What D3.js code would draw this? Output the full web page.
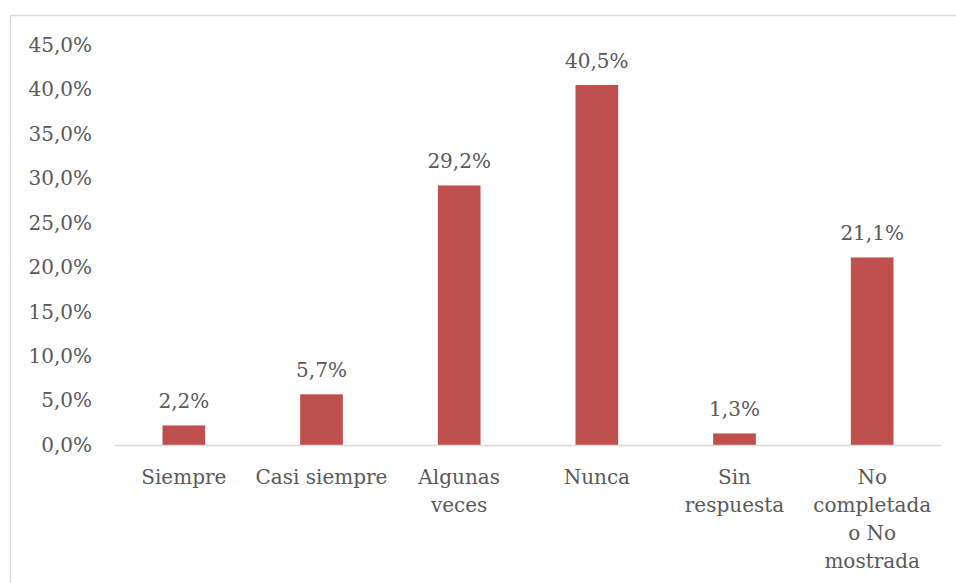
<!DOCTYPE html>
<html><head><meta charset="utf-8">
<script src="https://cdn.jsdelivr.net/npm/d3@7"></script>
<style>body{margin:0;background:#fff}svg{display:block}text{font-family:"DejaVu Serif",serif;fill:#595959}</style>
</head><body>
<script>
const categories = ["Siempre","Casi siempre","Algunas veces","Nunca","Sin respuesta","No completada o No mostrada"];
const categoryLines = [["Siempre"],["Casi siempre"],["Algunas","veces"],["Nunca"],["Sin","respuesta"],["No","completada","o No","mostrada"]];
const values = [2.2,5.7,29.2,40.5,1.3,21.1];
const yTicks = [0,5,10,15,20,25,30,35,40,45];

const W=956,H=583;
const svg=d3.select("body").append("svg").attr("width",W).attr("height",H);
svg.append("rect").attr("x",10.5).attr("y",15.5).attr("width",W+20).attr("height",H+20)
  .attr("fill","none").attr("stroke","#d9d9d9").attr("stroke-width",1.5);

const x=d3.scaleBand().domain(categories).range([115,941]).paddingInner(0.69).paddingOuter(0.345);
const y=d3.scaleLinear().domain([0,45]).range([445,45]);
const fmt=v=>d3.format(".1f")(v).replace(".",",")+"%";
const fs=20;

const ya=svg.append("g").attr("transform","translate(92,0)")
  .call(d3.axisLeft(y).tickValues(yTicks).tickFormat(fmt).tickSize(0).tickPadding(0));
ya.select(".domain").remove();
ya.selectAll("text").style("font-size",fs+"px").style("font-family","DejaVu Serif").attr("fill","#595959");

svg.selectAll("rect.bar").data(values).join("rect").attr("class","bar")
  .attr("x",(d,i)=>x(categories[i])).attr("width",x.bandwidth())
  .attr("y",d=>y(d)).attr("height",d=>y(0)-y(d)).attr("fill","#c0504d");

svg.append("line").attr("x1",115).attr("x2",941).attr("y1",y(0)+0.5).attr("y2",y(0)+0.5)
  .attr("stroke","#d9d9d9").attr("stroke-width",1.5);

svg.selectAll("text.lbl").data(values).join("text").attr("class","lbl")
  .attr("x",(d,i)=>x(categories[i])+x.bandwidth()/2).attr("y",d=>y(d)-17)
  .attr("text-anchor","middle").style("font-size",fs+"px").text(fmt);

const xa=svg.append("g");
categories.forEach((c,i)=>{
  const t=xa.append("text").attr("x",x(c)+x.bandwidth()/2).attr("y",484)
    .attr("text-anchor","middle").style("font-size",fs+"px");
  categoryLines[i].forEach((l,j)=>t.append("tspan").attr("x",x(c)+x.bandwidth()/2).attr("y",484+j*28).text(l));
});
</script>
</body></html>
